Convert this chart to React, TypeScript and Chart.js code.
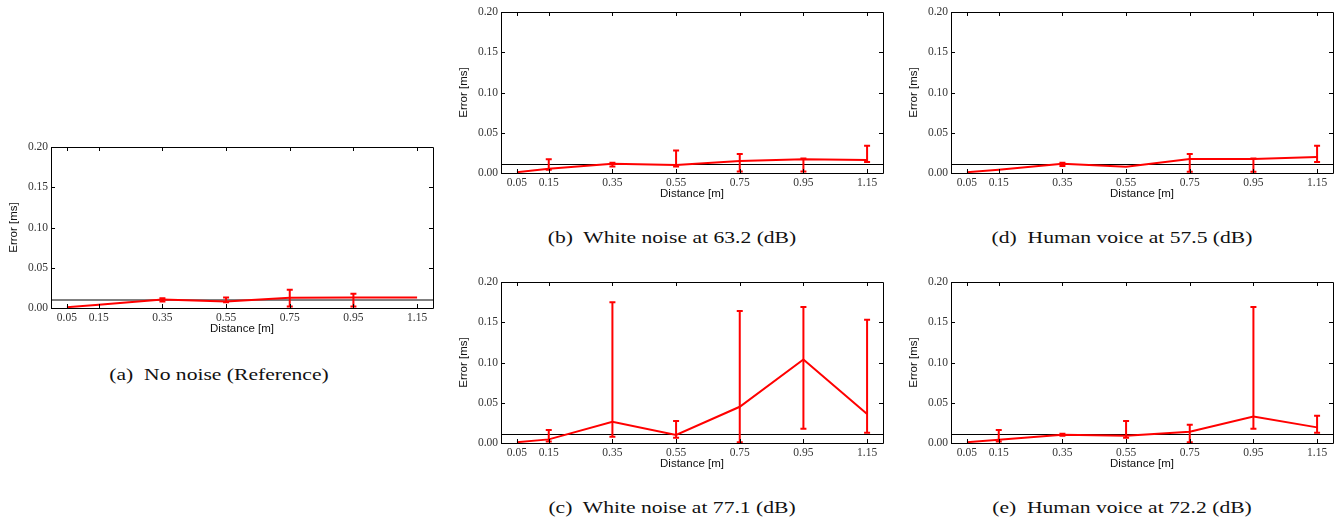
import React, { useEffect, useRef } from "react";
import { Chart, registerables } from "chart.js";
Chart.register(...registerables);

// ---- data ----
const distances = [0.05, 0.15, 0.35, 0.55, 0.75, 0.95, 1.15];
const xTickValues = [0.05, 0.15, 0.35, 0.55, 0.75, 0.95, 1.15];
const yTickValues = [0, 0.05, 0.1, 0.15, 0.2];
const referenceLevel = 0.01;

// (a) No noise
const aMean = [0.001, 0.004, 0.0107, 0.008, 0.0128, 0.013, 0.013];
const aLow = [null, null, 0.008, 0.007, 0.002, 0.002, null];
const aHigh = [null, null, 0.012, 0.013, 0.0227, 0.0178, null];

// (b) White noise 63.2 dB
const bMean = [0.001, 0.0054, 0.0116, 0.0099, 0.015, 0.017, 0.016];
const bLow = [null, 0.004, 0.008, 0.008, 0.002, 0.002, 0.0136];
const bHigh = [null, 0.017, 0.0128, 0.028, 0.0236, 0.018, 0.034];

// (c) White noise 77.1 dB
const cMean = [0.001, 0.0045, 0.0264, 0.0099, 0.045, 0.1037, 0.036];
const cLow = [null, 0.002, 0.0079, 0.0066, 0.001, 0.0178, 0.0128];
const cHigh = [null, 0.016, 0.1748, 0.0273, 0.164, 0.169, 0.153];

// (d) Human voice 57.5 dB
const dMean = [0.001, 0.004, 0.0116, 0.0079, 0.0174, 0.0174, 0.02];
const dLow = [null, null, 0.0087, null, 0.0017, 0.0017, 0.0136];
const dHigh = [null, null, 0.0128, null, 0.0236, 0.018, 0.034];

// (e) Human voice 72.2 dB
const eMean = [0.001, 0.004, 0.0103, 0.009, 0.014, 0.033, 0.0194];
const eLow = [null, 0.002, 0.009, 0.0066, 0.001, 0.0178, 0.0128];
const eHigh = [null, 0.016, 0.0116, 0.0273, 0.0227, 0.169, 0.034];

const captions = [
  "(a)  No noise (Reference)",
  "(b)  White noise at 63.2 (dB)",
  "(c)  White noise at 77.1 (dB)",
  "(d)  Human voice at 57.5 (dB)",
  "(e)  Human voice at 72.2 (dB)",
];

const Y_AXIS_W = 46;
const X_AXIS_H = 28;
const PAD_TOP = 12;
const PAD_RIGHT = 8;
const AREA_W = 382;
const AREA_H = 161;

const RED = "#ff0000";

const refLinePlugin = {
  id: "refLine",
  beforeDatasetsDraw(chart: any) {
    const opts = chart.options.plugins.refLine;
    if (!opts) return;
    const { ctx, chartArea } = chart;
    const yScale = chart.scales.y;
    const py = yScale.getPixelForValue(opts.value);
    const y = opts.width % 2 === 1 ? Math.round(py - 0.5) + 0.5 : Math.round(py);
    ctx.save();
    ctx.strokeStyle = opts.color;
    ctx.lineWidth = opts.width;
    ctx.beginPath();
    ctx.moveTo(chartArea.left, y);
    ctx.lineTo(chartArea.right, y);
    ctx.stroke();
    ctx.restore();
  },
};

const errorBarPlugin = {
  id: "errorBars",
  afterDatasetsDraw(chart: any) {
    const opts = chart.options.plugins.errorBars;
    if (!opts) return;
    const { low, high, xs } = opts;
    const xScale = chart.scales.x;
    const yScale = chart.scales.y;
    const ctx = chart.ctx;
    ctx.save();
    ctx.strokeStyle = RED;
    ctx.lineWidth = 2;
    ctx.lineCap = "butt";
    for (let i = 0; i < xs.length; i++) {
      if (low[i] == null || high[i] == null) continue;
      const px = xScale.getPixelForValue(xs[i]);
      const y1 = yScale.getPixelForValue(low[i]);
      const y2 = yScale.getPixelForValue(high[i]);
      ctx.beginPath();
      ctx.moveTo(px, y1);
      ctx.lineTo(px, y2);
      ctx.moveTo(px - 3, y1);
      ctx.lineTo(px + 3, y1);
      ctx.moveTo(px - 3, y2);
      ctx.lineTo(px + 3, y2);
      ctx.stroke();
    }
    ctx.restore();
  },
};

const framePlugin = {
  id: "frameTicks",
  afterDraw(chart: any) {
    const { ctx, chartArea } = chart;
    const { left, right, top, bottom } = chartArea;
    const xScale = chart.scales.x;
    const yScale = chart.scales.y;
    ctx.save();
    ctx.strokeStyle = "#000";
    ctx.lineWidth = 1;
    ctx.beginPath();
    ctx.rect(Math.round(left) + 0.5, Math.round(top) + 0.5, Math.round(right - left), Math.round(bottom - top));
    ctx.stroke();
    ctx.beginPath();
    const tl = 4;
    for (const t of yScale.ticks) {
      const py = Math.round(yScale.getPixelForValue(t.value)) + 0.5;
      ctx.moveTo(left, py);
      ctx.lineTo(left + tl, py);
      ctx.moveTo(right, py);
      ctx.lineTo(right - tl, py);
    }
    for (const t of xScale.ticks) {
      const px = Math.round(xScale.getPixelForValue(t.value)) + 0.5;
      ctx.moveTo(px, bottom);
      ctx.lineTo(px, bottom - tl);
      ctx.moveTo(px, top);
      ctx.lineTo(px, top + tl);
    }
    ctx.stroke();
    ctx.restore();
  },
};

type PanelProps = {
  mean: number[];
  low: (number | null)[];
  high: (number | null)[];
  left: number;
  top: number;
  refColor: string;
  refWidth: number;
};

function Panel({ mean, low, high, left, top, refColor, refWidth }: PanelProps) {
  const ref = useRef<HTMLCanvasElement>(null);
  const width = Y_AXIS_W + AREA_W + PAD_RIGHT;
  const height = PAD_TOP + AREA_H + X_AXIS_H;
  useEffect(() => {
    if (!ref.current) return;
    const chart = new Chart(ref.current, {
      type: "scatter",
      data: {
        datasets: [
          {
            data: distances.map((x, i) => ({ x, y: mean[i] })),
            showLine: true,
            borderColor: RED,
            borderWidth: 2,
            pointRadius: 0,
          },
        ],
      },
      plugins: [refLinePlugin, errorBarPlugin, framePlugin],
      options: {
        animation: false,
        responsive: false,
        devicePixelRatio: 1,
        layout: { padding: { top: PAD_TOP, right: PAD_RIGHT, left: 0, bottom: 0 } },
        plugins: {
          legend: { display: false },
          tooltip: { enabled: false },
          refLine: { value: referenceLevel, color: refColor, width: refWidth },
          errorBars: { low, high, xs: distances },
        } as any,
        scales: {
          x: {
            type: "linear",
            min: 0,
            max: 1.2,
            afterBuildTicks: (scale: any) => {
              scale.ticks = xTickValues.map((v) => ({ value: v }));
            },
            afterFit: (scale: any) => {
              scale.height = X_AXIS_H;
            },
            grid: { display: false, drawTicks: false },
            border: { display: false },
            ticks: {
              autoSkip: false,
              maxRotation: 0,
              minRotation: 0,
              padding: 3,
              color: "#333",
              font: { family: "Liberation Serif", size: 11.5 },
              callback: (v: any) => Number(v).toFixed(2),
            },
            title: {
              display: true,
              text: "Distance [m]",
              color: "#111",
              font: { family: "Liberation Sans", size: 11.5 },
              padding: { top: 0, bottom: 0 },
            },
          },
          y: {
            type: "linear",
            min: 0,
            max: 0.2,
            afterBuildTicks: (scale: any) => {
              scale.ticks = yTickValues.map((v) => ({ value: v }));
            },
            afterFit: (scale: any) => {
              scale.width = Y_AXIS_W;
            },
            grid: { display: false, drawTicks: false },
            border: { display: false },
            ticks: {
              padding: 3,
              color: "#333",
              font: { family: "Liberation Serif", size: 11.5 },
              callback: (v: any) => Number(v).toFixed(2),
            },
            title: {
              display: true,
              text: "Error [ms]",
              color: "#111",
              font: { family: "Liberation Sans", size: 11.5 },
              padding: { top: 2, bottom: 0 },
            },
          },
        },
      } as any,
    });
    return () => chart.destroy();
  }, []);
  return (
    <canvas
      ref={ref}
      width={width}
      height={height}
      style={{
        position: "absolute",
        left: left - Y_AXIS_W,
        top: top - PAD_TOP,
        width,
        height,
      }}
    />
  );
}

function Caption({ text, cx, cy }: { text: string; cx: number; cy: number }) {
  return (
    <div
      style={{
        position: "absolute",
        left: cx,
        top: cy,
        transform: "translate(-50%, -50%) scaleX(1.27)",
        whiteSpace: "pre",
        fontFamily: "'Liberation Serif', serif",
        fontSize: 17,
        color: "#111",
        lineHeight: 1,
      }}
    >
      {text}
    </div>
  );
}

export default function App() {
  return (
    <div
      style={{
        position: "fixed",
        left: 0,
        top: 0,
        width: 1343,
        height: 521,
        background: "#fff",
        overflow: "hidden",
      }}
    >
      <Panel mean={aMean} low={aLow} high={aHigh} left={51} top={147} refColor="#808080" refWidth={2} />
      <Panel mean={bMean} low={bLow} high={bHigh} left={501} top={12} refColor="#000" refWidth={1} />
      <Panel mean={dMean} low={dLow} high={dHigh} left={951} top={12} refColor="#000" refWidth={1} />
      <Panel mean={cMean} low={cLow} high={cHigh} left={501} top={282} refColor="#000" refWidth={1} />
      <Panel mean={eMean} low={eLow} high={eHigh} left={951} top={282} refColor="#000" refWidth={1} />
      <Caption text={captions[0]} cx={219} cy={374} />
      <Caption text={captions[1]} cx={672} cy={237} />
      <Caption text={captions[3]} cx={1122} cy={237} />
      <Caption text={captions[2]} cx={672} cy={507} />
      <Caption text={captions[4]} cx={1122} cy={507} />
    </div>
  );
}
